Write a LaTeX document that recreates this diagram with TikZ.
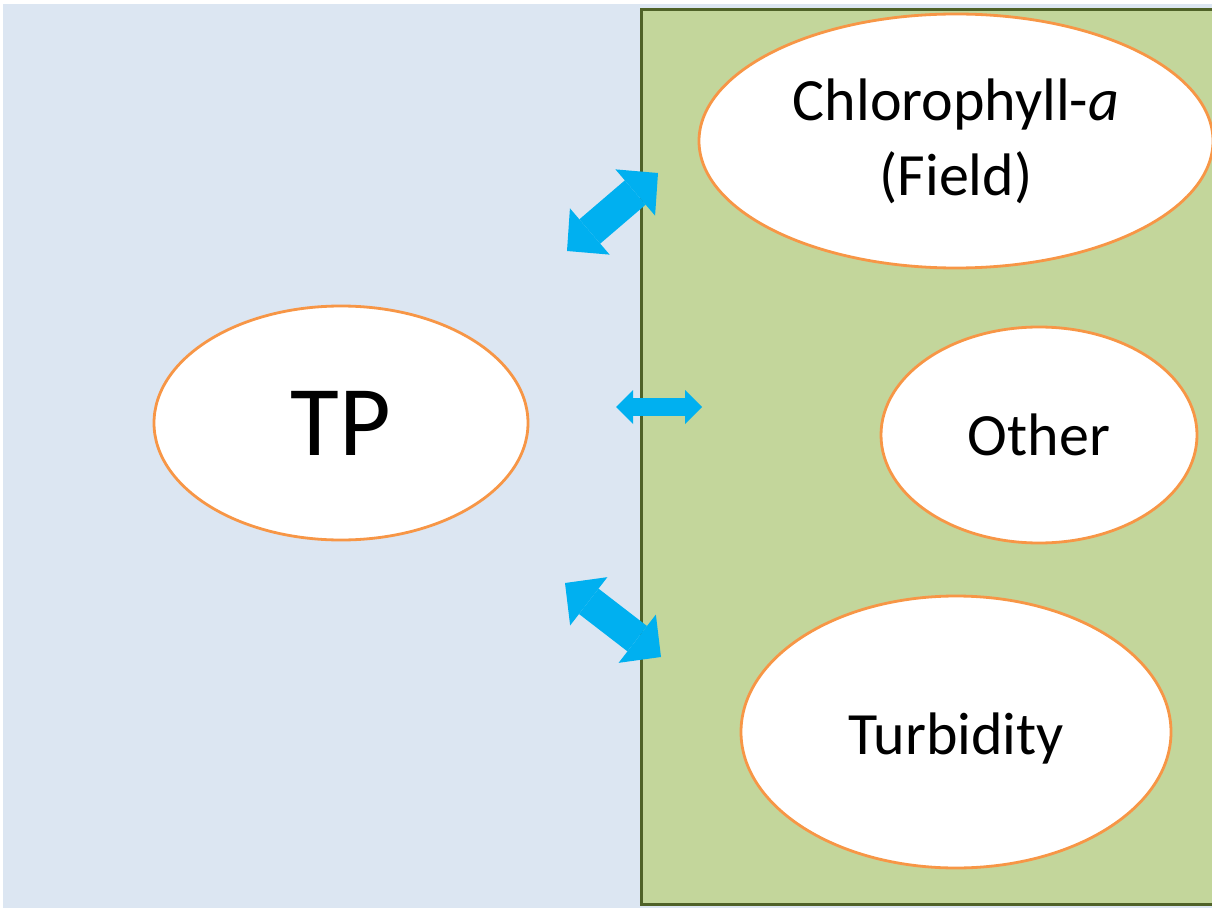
\documentclass[tikz,border=0pt]{standalone}
\usepackage{fontspec}
\setmainfont{Carlito}
\usetikzlibrary{shapes.geometric}
\usetikzlibrary{arrows.meta}

\definecolor{bgblue}{HTML}{DCE6F2}
\definecolor{panelgreen}{HTML}{C3D69B}
\definecolor{paneledge}{HTML}{4F6228}
\definecolor{ovalline}{HTML}{F79646}
\definecolor{arrowblue}{HTML}{00B0F0}

\begin{document}
\begin{tikzpicture}[x=1pt,y=-1pt]
            \tikzset{oval/.style={ellipse, draw=ovalline, line width=2.8pt, fill=white, inner sep=0pt, align=center, font=\fontsize{60}{75}\selectfont}};
            \tikzset{bigarrow/.style={draw=arrowblue, line width=32pt, {Triangle[length=30pt,width=61pt,line width=0pt]}-{Triangle[length=30pt,width=61pt,line width=0pt]}}};
            \tikzset{smallarrow/.style={draw=arrowblue, line width=18pt, {Triangle[length=17pt,width=34pt,line width=0pt]}-{Triangle[length=17pt,width=34pt,line width=0pt]}}};

            \useasboundingbox (0,0) rectangle (1212,909);
            \fill[bgblue] (3,4) rectangle (1212,908);
            \draw[fill=panelgreen, draw=paneledge, line width=3pt] (641.5,9.5) rectangle (1220,904.5);

            \node[oval, minimum width=374pt, minimum height=234pt] (tp) at (341,423) {\fontsize{100}{120}\selectfont TP};
            \node[oval, minimum width=514pt, minimum height=254pt] (chla) at (956,141) {Chlorophyll-\textit{a}\\(Field)};
            \node[oval, minimum width=316pt, minimum height=216pt] (other) at (1039,435) {Other};
            \node[oval, minimum width=430pt, minimum height=272pt] (turb) at (956,732) {\raisebox{-6pt}[\height][\depth]{Turbidity}};

            \coordinate (a1) at (567,251);
            \coordinate (a2) at (658,173);
            \draw[bigarrow] (a1) -- (a2);

            \coordinate (b1) at (616,407);
            \coordinate (b2) at (702,407);
            \draw[smallarrow] (b1) -- (b2);

            \coordinate (c1) at (565,583);
            \coordinate (c2) at (661,657);
            \draw[bigarrow] (c1) -- (c2);
        \end{tikzpicture}
\end{document}
